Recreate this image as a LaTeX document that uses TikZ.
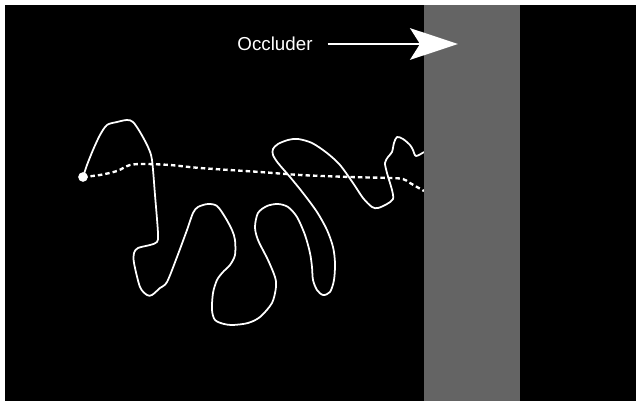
\documentclass[tikz,border=0pt]{standalone}
\usepackage{fontspec}
\setmainfont{Liberation Sans}
\usepackage{xcolor}
\usetikzlibrary{arrows.meta}
\definecolor{occludergray}{HTML}{646464}

\tikzset{
  track/.style={white,line width=1.5pt,line join=round},
  hidden/.style={white,line width=2pt,dash pattern=on 3.8pt off 2.6pt},
  pointer/.style={white,line width=1.5pt,-{Stealth[length=1.44cm,width=0.95cm,inset=0.3cm]}},
}

\begin{document}
\begin{tikzpicture}[x=0.03cm,y=-0.03cm]
\useasboundingbox (0,0) rectangle (636,401);
\fill[white] (0,0) rectangle (636,401);
\fill[black] (5,5) rectangle (636,401);

\node[circle,fill=white,inner sep=0pt,minimum size=0.29cm] (start) at (83,177) {};

% true path of the target
\draw[track] plot[smooth,tension=0.5] coordinates {
  (start.center) (87,165) (93,150) (100,135) (107,125) (117,122) (127,120)
  (133,122) (140,132) (148,147) (152,160) (155,195) (158,233) (157,242)
  (150,245) (138,248) (134,253) (134,263) (140,287) (147,295) (152,295)
  (160,288) (167,282) (177,257) (187,230) (193,213) (198,207) (208,204)
  (217,206) (225,217) (232,230) (235,240) (235,255) (230,265) (223,272)
  (217,280) (213,293) (212,310) (215,320) (224,324) (233,325) (248,323)
  (260,317) (272,303) (276,287) (275,277) (268,260) (258,240) (255,227)
  (258,213) (267,206) (278,204) (288,207) (297,217) (305,235) (310,253)
  (312,267) (313,280) (317,290) (323,295) (330,292) (334,280) (335,263)
  (333,247) (327,230) (317,212) (303,193) (290,177) (278,163) (273,155)
  (273,149) (278,144) (288,140) (298,139) (312,143) (327,153) (340,165)
  (353,183) (363,198) (372,207) (378,208) (387,204) (393,199) (392,190)
  (387,173) (385,163) (388,157) (392,152) (394,143) (397,137) (403,139)
  (410,145) (413,150) (416,156) (424,152)};

% estimated path
\draw[hidden] plot[smooth,tension=0.5] coordinates {
  (start.center) (100,175) (117,171) (130,165) (145,164) (170,165)
  (200,168) (260,172) (300,175) (350,177) (390,178) (403,179) (410,183)
  (424,191)};

\fill[occludergray] (424,5) rectangle (520,401);

\node[inner xsep=0.45cm,font=\fontsize{16}{19}\selectfont,text=white] (occlabel) at (275,44) {Occluder};
\coordinate (arrowtip) at (458,44);
\draw[pointer] (occlabel) -- (arrowtip);
\end{tikzpicture}
\end{document}
